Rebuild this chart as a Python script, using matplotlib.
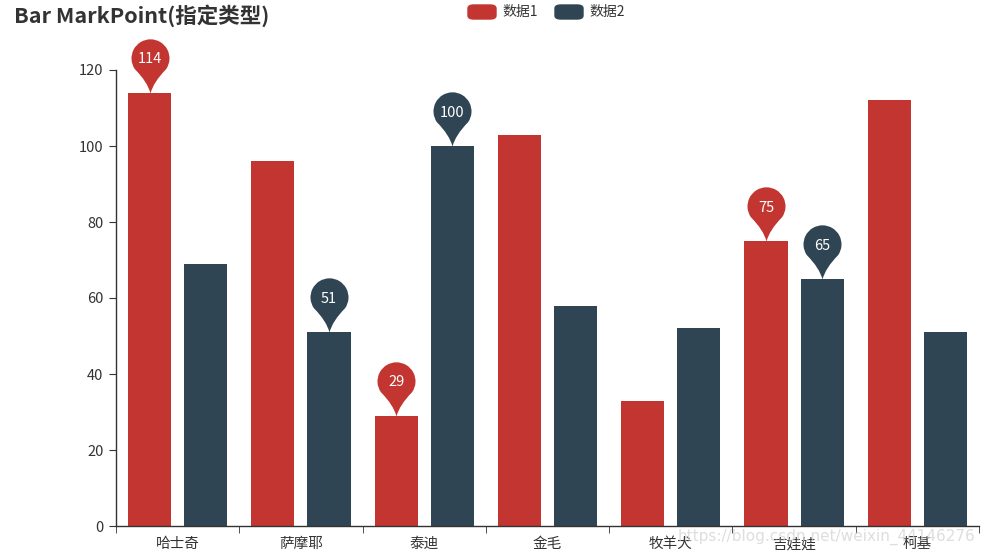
import numpy as np
import matplotlib.pyplot as plt
from matplotlib.path import Path
from matplotlib.patches import FancyBboxPatch

plt.rcParams['font.family'] = ['Noto Sans CJK SC', 'DejaVu Sans']

#%% data
categories = ['哈士奇', '萨摩耶', '泰迪', '金毛', '牧羊犬', '吉娃娃', '柯基']
data1 = [114, 96, 29, 103, 33, 75, 112]
data2 = [69, 51, 100, 58, 52, 65, 51]
series_names = ['数据1', '数据2']
# which bars get a pin (category index)
mark1 = [0, 2, 5]
mark2 = [2, 1, 5]
yticks = [0, 20, 40, 60, 80, 100, 120]

red = '#c23531'
dark = '#2f4554'
txt = '#333333'

#%% pin marker shape (tip at origin, bubble above)
def pin_path(c=1.85):
    arc = Path.arc(-35, 215)
    verts = [(0, 0)]
    codes = [Path.MOVETO]
    v = arc.vertices.copy()
    v[:, 1] += c
    verts += [(0.15, 0.6), tuple(v[0])]
    codes += [Path.CURVE3, Path.CURVE3]
    verts += [tuple(p) for p in v[1:]]
    codes += list(arc.codes[1:])
    verts += [(-0.15, 0.6), (0, 0), (0, 0)]
    codes += [Path.CURVE3, Path.CURVE3, Path.CLOSEPOLY]
    return Path(verts, codes)

pin = pin_path()

#%% figure
fig = plt.figure(figsize=(9.84, 5.55), dpi=100)
ax = fig.add_axes([116/984, 1-526/555, (979-116)/984, (526-70)/555])

x = np.arange(len(categories))
off = 0.228
w = 0.35
ax.bar(x - off, data1, w, color=red, zorder=2)
ax.bar(x + off, data2, w, color=dark, zorder=2)

for idx_list, vals, col, sgn in [(mark1, data1, red, -1), (mark2, data2, dark, 1)]:
    for i in idx_list:
        ax.plot(x[i] + sgn*off, vals[i], marker=pin, markersize=78,
                color=col, markeredgewidth=0, linestyle='none', zorder=3, clip_on=False)
        ax.annotate(str(vals[i]), (x[i] + sgn*off, vals[i]), xytext=(0, 24),
                    textcoords='offset points', ha='center', va='center',
                    color='white', fontsize=10.5, zorder=4, annotation_clip=False)

ax.set_xlim(-0.5, len(categories) - 0.5)
ax.set_ylim(0, 120)
ax.set_yticks(yticks)
ax.set_xticks(x)
ax.set_xticklabels(categories)
ax.set_xticks(np.arange(-0.5, len(categories)), minor=True)
ax.tick_params(axis='x', which='major', length=0, pad=8, labelsize=10.5, colors=txt)
ax.tick_params(axis='x', which='minor', length=5, color=txt, direction='out')
ax.tick_params(axis='y', length=5, color=txt, pad=4, labelsize=10.5, labelcolor=txt)
for s in ['top', 'right']:
    ax.spines[s].set_visible(False)
for s in ['left', 'bottom']:
    ax.spines[s].set_color(txt)
    ax.spines[s].set_linewidth(1)

#%% title and legend
fig.text(14/984, 1-16/555, 'Bar MarkPoint(指定类型)', fontsize=15.5, fontweight='bold',
         color=txt, ha='left', va='center')
for name, col, lx in [(series_names[0], red, 468), (series_names[1], dark, 555)]:
    fig.patches.append(FancyBboxPatch((lx/984, 1-19/555), 28/984, 14/555,
                                      boxstyle='round,pad=0,rounding_size=0.006',
                                      transform=fig.transFigure, color=col))
    fig.text((lx+34)/984, 1-12/555, name, fontsize=10, color=txt, ha='left', va='center')

fig.text(975/984, 1-537/555, 'https://blog.csdn.net/weixin_44146276', fontsize=11,
         color='#d0d0d0', alpha=0.7, ha='right', va='center', family='DejaVu Sans', zorder=0)

fig.savefig('out.png', dpi=100)
